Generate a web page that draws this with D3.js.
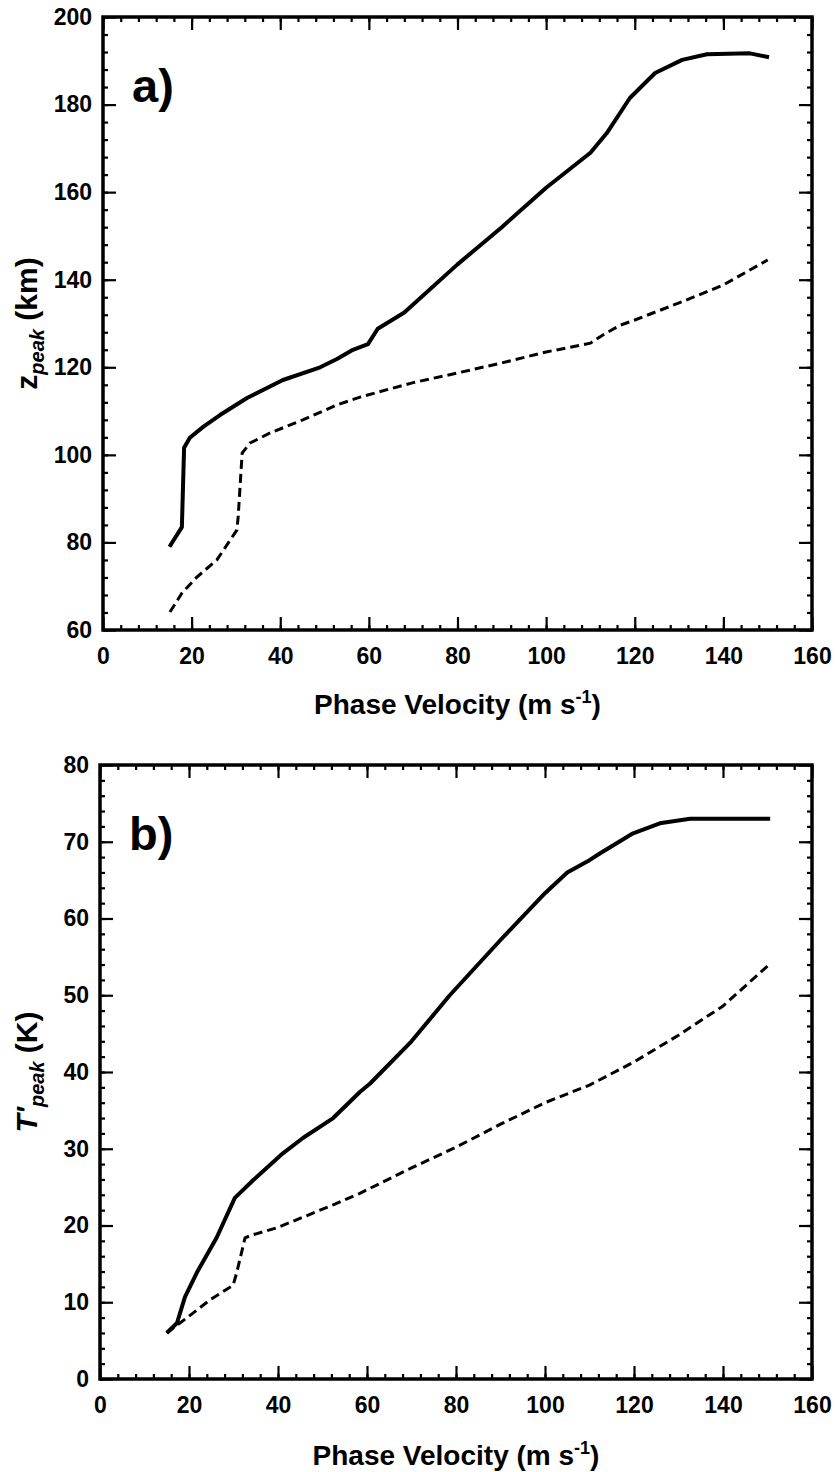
<!DOCTYPE html>
<html><head><meta charset="utf-8">
<script src="https://cdn.jsdelivr.net/npm/d3@7"></script>
<style>
html,body{margin:0;padding:0;background:#fff;}
svg text{font-family:"Liberation Sans",Arial,Helvetica,sans-serif;font-weight:bold;fill:#000;}
</style></head>
<body>
<svg id="chart" width="836" height="1472"></svg>
<script>
// ---- data ----
const xTickValues = [0, 20, 40, 60, 80, 100, 120, 140, 160];
const zTickValues = [60, 80, 100, 120, 140, 160, 180, 200];
const tTickValues = [0, 10, 20, 30, 40, 50, 60, 70, 80];

// panel a: z_peak (km) vs phase velocity
const aSolidV = [15, 17.8, 18.3, 19.6, 22.6, 26.4, 32.5, 40.6, 49, 52.8, 56.4, 59.8, 62, 68, 80, 90, 100, 105, 110, 113.7, 118.9, 124.6, 130.7, 136.3, 146, 150.3];
const aSolidZ = [79, 83.5, 101.6, 103.9, 106.4, 109.1, 113, 117.1, 120, 121.9, 124, 125.3, 128.8, 132.5, 143.5, 152, 161, 165, 169, 173.5, 181.5, 187.2, 190.2, 191.5, 191.7, 190.8];
const aDashV = [15.1, 17.8, 21.2, 25.7, 30.2, 30.5, 31.4, 33.2, 37.7, 45.1, 52.8, 58, 70, 80, 90, 100, 110, 113, 116.7, 120, 130, 140, 150];
const aDashZ = [64.1, 68.4, 72.1, 76, 82.8, 85.8, 100.4, 102.7, 105, 108, 111.4, 113.2, 116.5, 118.7, 121, 123.5, 125.5, 127.5, 129.6, 130.8, 134.7, 138.8, 144.5];

// panel b: T'_peak (K) vs phase velocity
const bSolidV = [15, 17.3, 19.1, 21.8, 26.2, 30.3, 34.4, 41.1, 45.6, 52.4, 58.4, 60.7, 70, 78.6, 90, 100, 105, 110, 112.4, 119.8, 125.8, 132.6, 150.6];
const bSolidT = [6.0, 7.3, 10.7, 13.9, 18.4, 23.6, 25.9, 29.4, 31.4, 34, 37.4, 38.5, 44, 50, 57.2, 63.3, 66, 67.6, 68.5, 71.1, 72.4, 73, 73];
const bDashV = [15, 19.8, 24.7, 29.9, 30.7, 32.6, 34.4, 39.7, 45.7, 52.4, 58.4, 70, 80, 90, 100, 110, 120, 130, 140, 150];
const bDashT = [6.0, 8.1, 10.3, 12.2, 13.8, 18.4, 18.8, 19.7, 21.1, 22.7, 24.2, 27.5, 30.2, 33.2, 36, 38.3, 41.3, 44.8, 48.6, 53.8];

const svg = d3.select("#chart");

function panel(opt) {
  const x = d3.scaleLinear().domain([0, 160]).range([opt.x0, opt.x1]);
  const y = d3.scaleLinear().domain(opt.yDomain).range([opt.y0, opt.y1]);
  const g = svg.append("g");

  const xMinor = d3.range(0, 160.01, 4);
  const yMinor = d3.range(opt.yDomain[0], opt.yDomain[1] + 0.01, opt.yMinorStep);

  function styleAxis(sel, fs) {
    sel.select(".domain").remove();
    sel.selectAll("line").attr("stroke", "#000").attr("stroke-width", 2.2);
    sel.selectAll("text").style("font-size", fs + "px").attr("fill", "#000");
  }
  // bottom
  g.append("g").attr("transform", `translate(0,${opt.y0})`)
    .call(d3.axisBottom(x).tickValues(xMinor).tickSize(-5).tickFormat(""))
    .call(s => styleAxis(s, 23));
  g.append("g").attr("transform", `translate(0,${opt.y0})`)
    .call(d3.axisBottom(x).tickValues(xTickValues).tickSize(-13).tickPadding(18).tickFormat(d3.format("d")))
    .call(s => styleAxis(s, 23));
  // top
  g.append("g").attr("transform", `translate(0,${opt.y1})`)
    .call(d3.axisTop(x).tickValues(xMinor).tickSize(-5).tickFormat(""))
    .call(s => styleAxis(s, 23));
  g.append("g").attr("transform", `translate(0,${opt.y1})`)
    .call(d3.axisTop(x).tickValues(xTickValues).tickSize(-13).tickFormat(""))
    .call(s => styleAxis(s, 23));
  // left
  g.append("g").attr("transform", `translate(${opt.x0},0)`)
    .call(d3.axisLeft(y).tickValues(yMinor).tickSize(-5).tickFormat(""))
    .call(s => styleAxis(s, 23));
  g.append("g").attr("transform", `translate(${opt.x0},0)`)
    .call(d3.axisLeft(y).tickValues(opt.yTicks).tickSize(-13).tickPadding(11).tickFormat(d3.format("d")))
    .call(s => styleAxis(s, 23));
  // right
  g.append("g").attr("transform", `translate(${opt.x1},0)`)
    .call(d3.axisRight(y).tickValues(yMinor).tickSize(-5).tickFormat(""))
    .call(s => styleAxis(s, 23));
  g.append("g").attr("transform", `translate(${opt.x1},0)`)
    .call(d3.axisRight(y).tickValues(opt.yTicks).tickSize(-13).tickFormat(""))
    .call(s => styleAxis(s, 23));

  // frame
  g.append("rect")
    .attr("x", x(0)).attr("y", y(opt.yDomain[1]))
    .attr("width", x(160) - x(0)).attr("height", y(opt.yDomain[0]) - y(opt.yDomain[1]))
    .attr("fill", "none").attr("stroke", "#000").attr("stroke-width", 3.5);

  const line = d3.line().x(d => x(d[0])).y(d => y(d[1]));
  g.append("path").datum(d3.zip(opt.dashV, opt.dashY))
    .attr("d", line).attr("fill", "none").attr("stroke", "#000")
    .attr("stroke-width", 3).attr("stroke-dasharray", "9,5");
  g.append("path").datum(d3.zip(opt.solidV, opt.solidY))
    .attr("d", line).attr("fill", "none").attr("stroke", "#000")
    .attr("stroke-width", 4).attr("stroke-linejoin", "round");

  // panel letter
  g.append("text").attr("x", x(0) + 29).attr("y", y(opt.yDomain[1]) + 85)
    .style("font-size", "47px").text(opt.letter);

  // x title
  const xt = g.append("text").attr("x", (opt.x0 + opt.x1) / 2).attr("y", opt.xTitleY)
    .attr("text-anchor", "middle").style("font-size", "28px");
  xt.append("tspan").text("Phase Velocity (m s");
  xt.append("tspan").attr("dy", -11).style("font-size", "18px").text("-1");
  xt.append("tspan").attr("dy", 11).text(")");

  // y title
  const yt = g.append("text")
    .attr("transform", `translate(37,${(opt.y0 + opt.y1) / 2}) rotate(-90)`)
    .attr("text-anchor", "middle").style("font-size", "30px");
  opt.yTitle(yt);
}

panel({
  x0: 103, x1: 812, y0: 630, y1: 17,
  yDomain: [60, 200], yTicks: zTickValues, yMinorStep: 4,
  solidV: aSolidV, solidY: aSolidZ, dashV: aDashV, dashY: aDashZ,
  letter: "a)", xTitleY: 714,
  yTitle: t => {
    t.append("tspan").text("z");
    t.append("tspan").attr("dy", 7).style("font-size", "20px").style("font-style", "italic").text("peak");
    t.append("tspan").attr("dy", -7).text(" (km)");
  }
});

panel({
  x0: 100, x1: 812, y0: 1379, y1: 765,
  yDomain: [0, 80], yTicks: tTickValues, yMinorStep: 2,
  solidV: bSolidV, solidY: bSolidT, dashV: bDashV, dashY: bDashT,
  letter: "b)", xTitleY: 1465,
  yTitle: t => {
    t.append("tspan").style("font-style", "italic").text("T'");
    t.append("tspan").attr("dy", 7).style("font-size", "20px").style("font-style", "italic").text("peak");
    t.append("tspan").attr("dy", -7).text(" (K)");
  }
});
</script>
</body></html>
